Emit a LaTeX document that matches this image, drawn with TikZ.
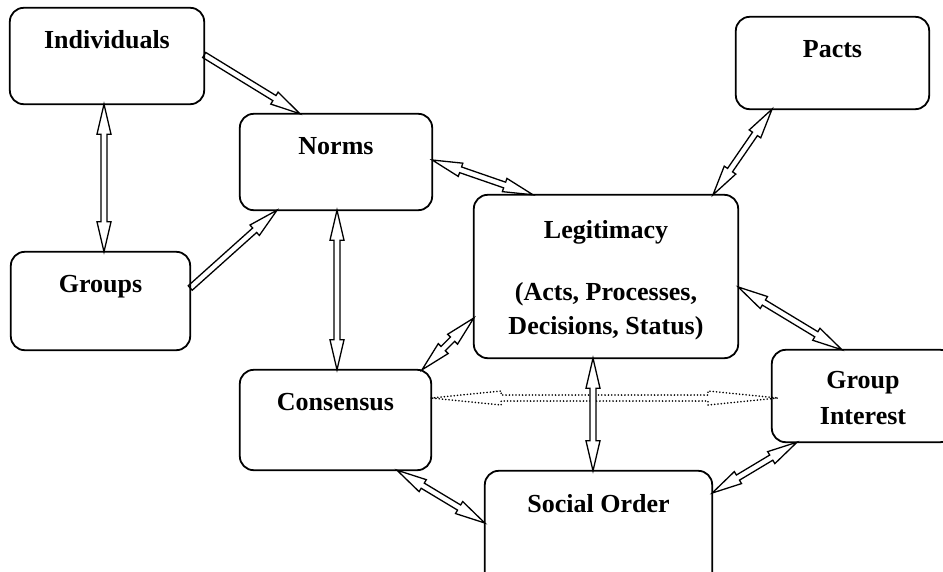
\documentclass[tikz,border=0pt]{standalone}
\usepackage{fontspec}
\setmainfont{Liberation Serif}
\usetikzlibrary{calc}
% hollow arrow with two heads: [style]{A}{B}{head length}
\newcommand{\twohead}[4][]{%
 \draw[harrow,#1] (#2)
 -- ($(#2)!#4!(#3)!7pt!90:(#3)$)
 -- ($(#2)!#4!(#3)!3pt!90:(#3)$)
 -- ($(#3)!#4!(#2)!3pt!-90:(#2)$)
 -- ($(#3)!#4!(#2)!7pt!-90:(#2)$)
 -- (#3)
 -- ($(#3)!#4!(#2)!7pt!90:(#2)$)
 -- ($(#3)!#4!(#2)!3pt!90:(#2)$)
 -- ($(#2)!#4!(#3)!3pt!-90:(#3)$)
 -- ($(#2)!#4!(#3)!7pt!-90:(#3)$)
 -- cycle;}
% hollow arrow with one head at B
\newcommand{\onehead}[4][]{%
 \draw[harrow,#1] ($(#2)!3pt!90:(#3)$)
 -- ($(#3)!#4!(#2)!3pt!-90:(#2)$)
 -- ($(#3)!#4!(#2)!7pt!-90:(#2)$)
 -- (#3)
 -- ($(#3)!#4!(#2)!7pt!90:(#2)$)
 -- ($(#3)!#4!(#2)!3pt!90:(#2)$)
 -- ($(#2)!3pt!-90:(#3)$)
 -- cycle;}
\tikzset{
 box/.style={draw, rounded corners=14pt, line width=1.8pt, inner sep=0pt},
 lbl/.style={anchor=base, inner sep=0pt, font=\fontsize{26}{34}\selectfont\bfseries},
 harrow/.style={draw, fill=white, line width=1.3pt, line join=miter},
 dotarrow/.style={dash pattern=on 0.1pt off 3.2pt, line cap=round, line width=1.7pt, fill=none}
}
\begin{document}
\begin{tikzpicture}[x=1pt,y=-1pt]
\useasboundingbox (0,0) rectangle (943,571);
% boxes (as nodes)
\node[minimum width=194pt, minimum height=96pt, inner sep=0pt] (indiv) at (107,56) {};
\node[minimum width=192pt, minimum height=96pt, inner sep=0pt] (norms) at (336,162) {};
\node[minimum width=193pt, minimum height=92pt, inner sep=0pt] (pacts) at (832.5,63) {};
\node[minimum width=179pt, minimum height=98pt, inner sep=0pt] (groups) at (100.5,301) {};
\node[minimum width=264pt, minimum height=163pt, inner sep=0pt] (legit) at (606,276.5) {};
\node[minimum width=191pt, minimum height=100pt, inner sep=0pt] (consensus) at (335.5,420) {};
\node[minimum width=182pt, minimum height=92pt, inner sep=0pt] (gi) at (863,396) {};
\node[minimum width=227pt, minimum height=119pt, inner sep=0pt] (social) at (598.5,530.5) {};
% connector end points on the boxes
\coordinate (a1s) at (indiv.east |- 0,55);
\coordinate (a1e) at (300,0 |- norms.north);
\coordinate (a2s) at (104,0 |- indiv.south);
\coordinate (a2e) at (104,0 |- groups.north);
\coordinate (a3s) at (groups.east |- 0,288);
\coordinate (a3e) at (277,0 |- norms.south);
\coordinate (a4s) at (norms.east |- 0,160);
\coordinate (a4e) at (533,0 |- legit.north);
\coordinate (a5s) at (337,0 |- norms.south);
\coordinate (a5e) at (337,0 |- consensus.north);
\coordinate (a6s) at (772,0 |- pacts.south);
\coordinate (a6e) at (713,0 |- legit.north);
\coordinate (a7s) at (legit.east |- 0,287);
\coordinate (a7e) at (842,0 |- gi.north);
\coordinate (a8s) at (422,0 |- consensus.north);
\coordinate (a8e) at (legit.west |- 0,318);
\coordinate (a9s) at (593,0 |- legit.south);
\coordinate (a9e) at (593,0 |- social.north);
\coordinate (a10s) at (397,0 |- consensus.south);
\coordinate (a10e) at (social.west |- 0,523);
\coordinate (a11s) at (social.east |- 0,493);
\coordinate (a11e) at (797,0 |- gi.south);
\coordinate (a12s) at (consensus.east |- 0,398);
\coordinate (a12e) at (778,398);
% connectors
\twohead[dotarrow]{a12s}{a12e}{70pt}
\onehead{a1s}{a1e}{30pt}
\twohead{a2s}{a2e}{30pt}
\onehead{a3s}{a3e}{30pt}
\twohead{a4s}{a4e}{30pt}
\twohead{a5s}{a5e}{30pt}
\twohead{a6s}{a6e}{30pt}
\twohead{a7s}{a7e}{30pt}
\twohead{a8s}{a8e}{30pt}
\twohead{a9s}{a9e}{30pt}
\twohead{a10s}{a10e}{30pt}
\twohead{a11s}{a11e}{30pt}
% box outlines
\foreach \b in {indiv,norms,pacts,groups,legit,consensus,gi,social}
  \draw[box] (\b.north west) rectangle (\b.south east);
% labels
\node[lbl] (indivT) at (107,48) {Individuals};
\node[lbl] (normsT) at (336,154) {Norms};
\node[lbl] (pactsT) at (832.5,57) {Pacts};
\node[lbl] (groupsT) at (100.5,292) {Groups};
\node[lbl] (legitT1) at (606,238) {Legitimacy};
\node[lbl] (legitT2) at (606,300) {(Acts, Processes,};
\node[lbl] (legitT3) at (606,334) {Decisions, Status)};
\node[lbl] (consT) at (335.5,410) {Consensus};
\node[lbl] (giT1) at (863,388) {Group};
\node[lbl] (giT2) at (863,424) {Interest};
\node[lbl] (socialT) at (598.5,512) {Social Order};
\end{tikzpicture}
\end{document}
